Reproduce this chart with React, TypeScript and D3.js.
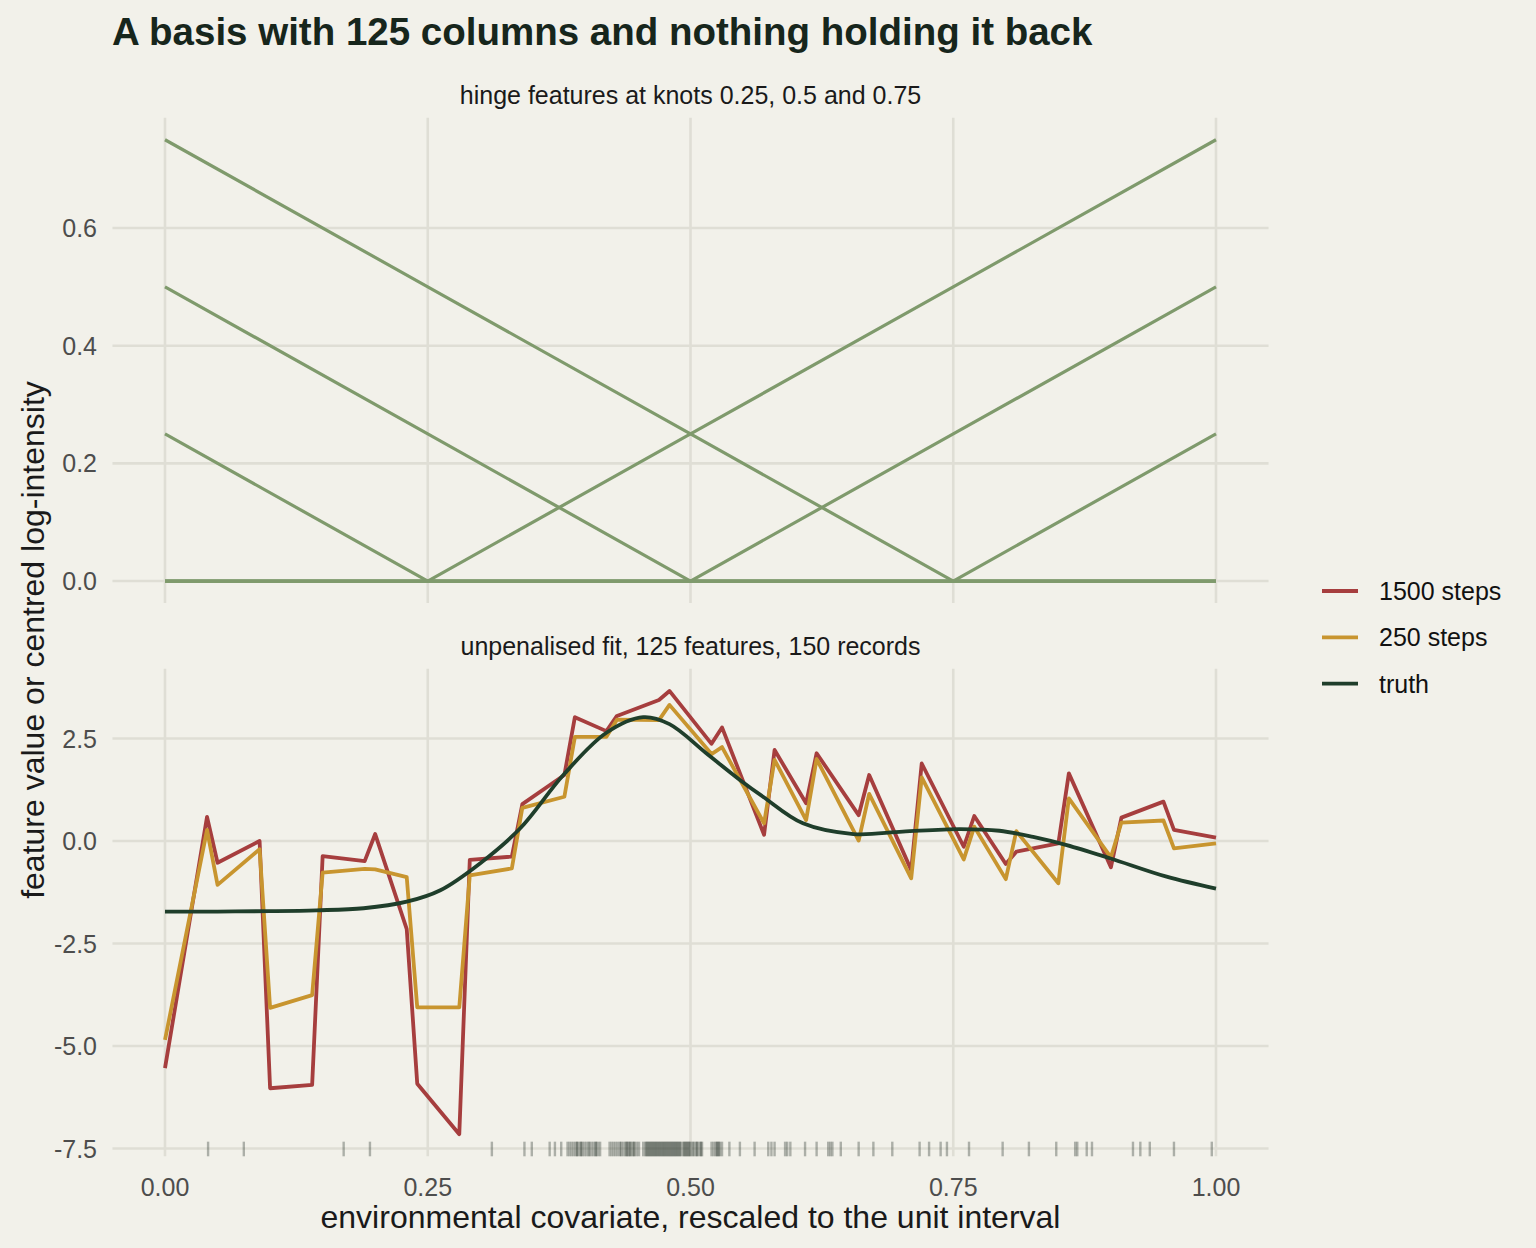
import React from "react";
import * as d3 from "d3";

// ---------- data ----------
const hingeX = [0, 0.25, 0.5, 0.75, 1];
const hingeSeries = [
  [0, 0, 0.25, 0.5, 0.75],
  [0.25, 0, 0, 0, 0],
  [0, 0, 0, 0.25, 0.5],
  [0.5, 0.25, 0, 0, 0],
  [0, 0, 0, 0, 0.25],
  [0.75, 0.5, 0.25, 0, 0],
];

const fitX = [0, 0.04, 0.05, 0.09, 0.1, 0.14, 0.15, 0.19, 0.2, 0.23, 0.24, 0.28, 0.29, 0.33, 0.34, 0.38, 0.39, 0.42, 0.43, 0.47, 0.48, 0.52, 0.53, 0.57, 0.58, 0.61, 0.62, 0.66, 0.67, 0.71, 0.72, 0.76, 0.77, 0.8, 0.81, 0.85, 0.86, 0.9, 0.91, 0.95, 0.96, 1.0];
const fit1500 = [-5.54, 0.59, -0.53, 0.0, -6.03, -5.95, -0.37, -0.49, 0.17, -2.15, -5.92, -7.15, -0.46, -0.38, 0.9, 1.61, 3.02, 2.68, 3.05, 3.44, 3.66, 2.37, 2.77, 0.15, 2.22, 0.92, 2.14, 0.63, 1.61, -0.71, 1.89, -0.14, 0.61, -0.56, -0.26, -0.06, 1.65, -0.64, 0.57, 0.96, 0.27, 0.08];
const fit250 = [-4.85, 0.27, -1.07, -0.2, -4.07, -3.76, -0.77, -0.68, -0.69, -0.88, -4.06, -4.06, -0.84, -0.67, 0.81, 1.08, 2.54, 2.54, 2.96, 2.95, 3.32, 2.12, 2.29, 0.43, 1.98, 0.51, 2.0, 0.01, 1.15, -0.91, 1.55, -0.45, 0.35, -0.93, 0.24, -1.03, 1.04, -0.4, 0.45, 0.5, -0.18, -0.06];

const truthX = [0, 0.05, 0.1, 0.144, 0.189, 0.23, 0.262, 0.3, 0.338, 0.379, 0.42, 0.455, 0.48, 0.515, 0.547, 0.569, 0.607, 0.655, 0.702, 0.756, 0.794, 0.826, 0.858, 0.899, 0.953, 1.0];
const truthY = [-1.72, -1.72, -1.71, -1.69, -1.64, -1.48, -1.2, -0.54, 0.31, 1.61, 2.64, 3.02, 2.85, 2.14, 1.49, 1.08, 0.43, 0.17, 0.23, 0.29, 0.25, 0.1, -0.1, -0.42, -0.87, -1.16];

const rugX = [
  0.041, 0.075, 0.17, 0.195, 0.311, 0.342, 0.349, 0.366, 0.371, 0.377,
  0.383, 0.385, 0.387, 0.389, 0.391, 0.392, 0.393, 0.395, 0.396, 0.397, 0.399, 0.401, 0.403, 0.404, 0.406, 0.408, 0.41, 0.41, 0.412, 0.414,
  0.423, 0.425, 0.427, 0.429, 0.431, 0.433, 0.434, 0.436, 0.438, 0.439, 0.44, 0.441, 0.4425, 0.443, 0.445, 0.446, 0.447, 0.449, 0.451,
  0.455, 0.457, 0.458, 0.459, 0.46, 0.461, 0.462, 0.463, 0.464, 0.465, 0.466, 0.467, 0.468, 0.469, 0.47, 0.471, 0.472, 0.473, 0.474, 0.475, 0.476, 0.477, 0.478, 0.479, 0.48, 0.481, 0.482, 0.483, 0.484, 0.485, 0.486, 0.487, 0.488, 0.489, 0.49, 0.491, 0.493, 0.494, 0.495, 0.496, 0.497, 0.498, 0.499, 0.5,
  0.502, 0.503, 0.505, 0.506, 0.507, 0.509, 0.51, 0.511,
  0.52, 0.522, 0.524, 0.525, 0.526, 0.527, 0.528, 0.53,
  0.537, 0.547, 0.561, 0.574, 0.577, 0.58, 0.59, 0.592, 0.595, 0.609, 0.62, 0.631, 0.633, 0.635, 0.643, 0.66, 0.674, 0.692, 0.718, 0.727, 0.738, 0.744, 0.765, 0.797, 0.822, 0.848, 0.866, 0.868, 0.877, 0.882, 0.921, 0.928, 0.937, 0.96, 0.996,
];

const xTicks = [0, 0.25, 0.5, 0.75, 1];
const xTickLabels = ["0.00", "0.25", "0.50", "0.75", "1.00"];
const topYTicks = [0, 0.2, 0.4, 0.6];
const topYTickLabels = ["0.0", "0.2", "0.4", "0.6"];
const botYTicks = [2.5, 0, -2.5, -5, -7.5];
const botYTickLabels = ["2.5", "0.0", "-2.5", "-5.0", "-7.5"];

const legendLabels = ["1500 steps", "250 steps", "truth"];

// ---------- styles ----------
const BG = "#f2f1ea";
const GRID = "#dfded5";
const HINGE = "#7f9a6c";
const RED = "#a63e3e";
const GOLD = "#c8952f";
const TRUTH = "#1f3e2b";
const FONT = "'Liberation Sans', Arial, Helvetica, sans-serif";
const legendColors = [RED, GOLD, TRUTH];

export default function App() {
  const W = 1536;
  const H = 1248;
  const x = d3.scaleLinear().domain([-0.05, 1.05]).range([112.45, 1268.55]);
  const yTop = d3.scaleLinear().domain([-0.0375, 0.7875]).range([603.1, 117.7]);
  const yBot = d3.scaleLinear().domain([-7.69, 4.2]).range([1156.3, 668.8]);

  const [xl, xr] = x.range();

  const hingeLine = d3
    .line<number>()
    .x((_, i) => x(hingeX[i]))
    .y((d) => yTop(d));

  const fitLine = d3
    .line<number>()
    .x((_, i) => x(fitX[i]))
    .y((d) => yBot(d));

  const truthLine = d3
    .line<number>()
    .x((_, i) => x(truthX[i]))
    .y((d) => yBot(d))
    .curve(d3.curveCatmullRom.alpha(0.5));

  const botBottom = yBot.range()[0];
  const botTop = yBot.range()[1];
  const rugLen = (botBottom - botTop) * 0.03;

  const TICK = 25;

  return (
    <svg width={W} height={H} style={{ display: "block", position: "absolute", left: 0, top: 0 }} fontFamily={FONT}>
      <rect x={0} y={0} width={W} height={H} fill={BG} />

      {/* title */}
      <text x={112} y={45} fontSize={38.5} fontWeight="bold" fill="#17261c">
        A basis with 125 columns and nothing holding it back
      </text>

      {/* strip labels */}
      <text x={(xl + xr) / 2} y={104} fontSize={25} textAnchor="middle" fill="#1a1a1a">
        hinge features at knots 0.25, 0.5 and 0.75
      </text>
      <text x={(xl + xr) / 2} y={655} fontSize={25} textAnchor="middle" fill="#1a1a1a">
        unpenalised fit, 125 features, 150 records
      </text>

      {/* top panel grid */}
      <g stroke={GRID} strokeWidth={2.6}>
        {xTicks.map((t) => (
          <line key={"tv" + t} x1={x(t)} x2={x(t)} y1={yTop.range()[1]} y2={yTop.range()[0]} />
        ))}
        {topYTicks.map((t) => (
          <line key={"th" + t} x1={xl} x2={xr} y1={yTop(t)} y2={yTop(t)} />
        ))}
      </g>
      {/* bottom panel grid */}
      <g stroke={GRID} strokeWidth={2.6}>
        {xTicks.map((t) => (
          <line key={"bv" + t} x1={x(t)} x2={x(t)} y1={botTop} y2={botBottom} />
        ))}
        {botYTicks.map((t) => (
          <line key={"bh" + t} x1={xl} x2={xr} y1={yBot(t)} y2={yBot(t)} />
        ))}
      </g>

      {/* top panel hinge lines */}
      <g fill="none" stroke={HINGE} strokeWidth={3.2} strokeLinejoin="round">
        {hingeSeries.map((s, i) => (
          <path key={"h" + i} d={hingeLine(s) || ""} />
        ))}
      </g>

      {/* bottom panel fits */}
      <g fill="none" strokeWidth={3.8} strokeLinejoin="round" strokeLinecap="butt">
        <path d={fitLine(fit1500) || ""} stroke={RED} />
        <path d={fitLine(fit250) || ""} stroke={GOLD} />
        <path d={truthLine(truthY) || ""} stroke={TRUTH} strokeWidth={3.8} />
      </g>

      {/* rug */}
      <g stroke="#1f2a22" strokeOpacity={0.33} strokeWidth={2.4}>
        {rugX.map((r, i) => (
          <line key={"r" + i} x1={x(r)} x2={x(r)} y1={botBottom} y2={botBottom - rugLen} />
        ))}
      </g>

      {/* y tick labels */}
      <g fontSize={TICK} fill="#4d4d4d" textAnchor="end">
        {topYTicks.map((t, i) => (
          <text key={"tyl" + t} x={97} y={yTop(t) + 9}>
            {topYTickLabels[i]}
          </text>
        ))}
        {botYTicks.map((t, i) => (
          <text key={"byl" + t} x={97} y={yBot(t) + 9}>
            {botYTickLabels[i]}
          </text>
        ))}
      </g>

      {/* x tick labels */}
      <g fontSize={TICK} fill="#4d4d4d" textAnchor="middle">
        {xTicks.map((t, i) => (
          <text key={"xl" + t} x={x(t)} y={1196}>
            {xTickLabels[i]}
          </text>
        ))}
      </g>

      {/* axis titles */}
      <text x={(xl + xr) / 2} y={1228} fontSize={32} textAnchor="middle" fill="#1a1a1a">
        environmental covariate, rescaled to the unit interval
      </text>
      <text
        transform={`translate(44, 640) rotate(-90)`}
        fontSize={32}
        textAnchor="middle"
        fill="#1a1a1a"
      >
        feature value or centred log-intensity
      </text>

      {/* legend */}
      <g>
        {legendLabels.map((lab, i) => {
          const cy = 591 + i * 46.3;
          return (
            <g key={lab}>
              <line x1={1322} x2={1358} y1={cy} y2={cy} stroke={legendColors[i]} strokeWidth={3.8} />
              <text x={1379} y={cy + 9} fontSize={25} fill="#111">
                {lab}
              </text>
            </g>
          );
        })}
      </g>
    </svg>
  );
}
